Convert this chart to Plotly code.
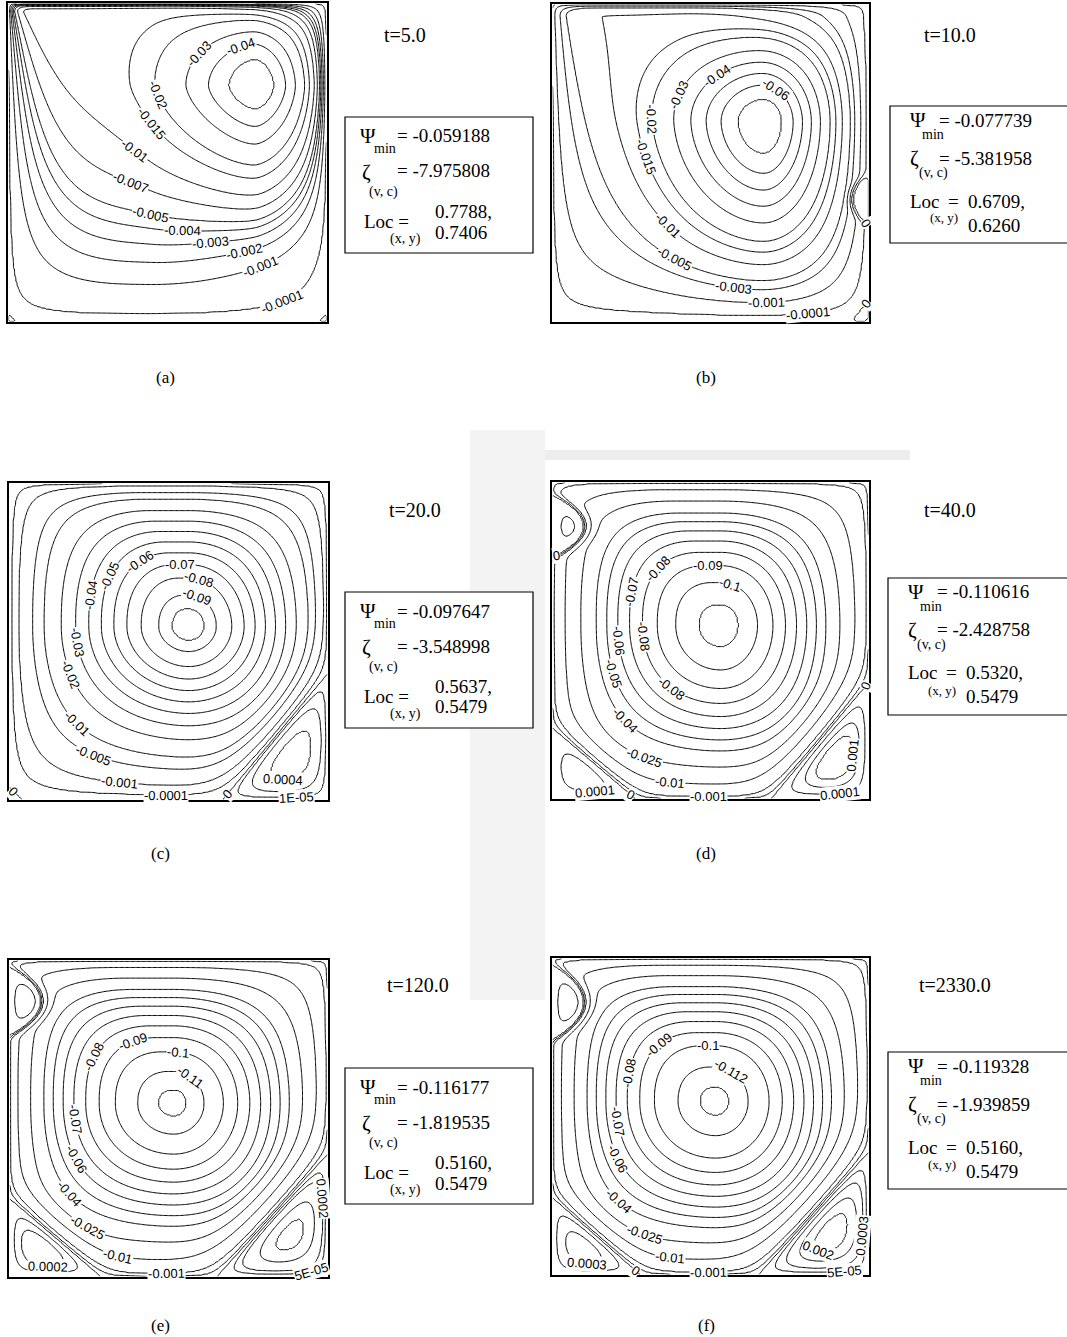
import numpy as np
import plotly.graph_objects as go

FIG_W, FIG_H = 1067, 1337
SERIF = "Liberation Serif, Times New Roman, serif"
SANS = "Liberation Sans, Arial, sans-serif"

# ------------------------------------------------------------------ data
panel_tags = ["(a)", "(b)", "(c)", "(d)", "(e)", "(f)"]
time_labels = ["t=5.0", "t=10.0", "t=20.0", "t=40.0", "t=120.0", "t=2330.0"]
psi_min = [-0.059188, -0.077739, -0.097647, -0.110616, -0.116177, -0.119328]
zeta_vc = [-7.975808, -5.381958, -3.548998, -2.428758, -1.819535, -1.939859]
loc_x = [0.7788, 0.6709, 0.5637, 0.5320, 0.5160, 0.5160]
loc_y = [0.7406, 0.6260, 0.5479, 0.5479, 0.5479, 0.5479]

# stream-function contour levels of each snapshot
levels_a = [-0.05, -0.04, -0.03, -0.02, -0.015, -0.01, -0.007, -0.005, -0.004,
            -0.003, -0.002, -0.001, -0.0001, 0.0]
levels_b = [-0.07, -0.06, -0.05, -0.04, -0.03, -0.02, -0.015, -0.01, -0.005,
            -0.003, -0.001, -0.0001, 0.0]
levels_c = [-0.095, -0.09, -0.08, -0.07, -0.06, -0.05, -0.04, -0.03, -0.02, -0.01,
            -0.005, -0.001, -0.0001, 0.0, 1e-5, 0.0001, 0.0004]
levels_d = [-0.108, -0.1, -0.09, -0.08, -0.07, -0.06, -0.05, -0.04, -0.025, -0.01,
            -0.001, -0.0001, 0.0, 0.0001, 0.0005, 0.001]
levels_e = [-0.115, -0.11, -0.1, -0.09, -0.08, -0.07, -0.06, -0.05, -0.04, -0.025,
            -0.01, -0.001, -0.0001, 0.0, 5e-5, 0.0002, 0.001, 0.002]
levels_f = [-0.118, -0.112, -0.1, -0.09, -0.08, -0.07, -0.06, -0.05, -0.04, -0.025,
            -0.01, -0.001, -0.0001, 0.0, 5e-5, 0.0003, 0.001, 0.002]

# contour values that carry an inline label
labels_a = [-0.04, -0.03, -0.02, -0.015, -0.01, -0.007, -0.005, -0.004, -0.003,
            -0.002, -0.001, -0.0001]
labels_b = [-0.06, -0.04, -0.03, -0.02, -0.015, -0.01, -0.005, -0.003, -0.001,
            -0.0001, 0.0, 0.0]
labels_c = [-0.04, -0.05, -0.06, -0.07, -0.08, -0.09, -0.03, -0.02, -0.01, -0.005,
            -0.001, -0.0001, 0.0, 0.0004, 1e-5, 0.0]
labels_d = [0.0, -0.09, -0.1, -0.08, -0.07, -0.06, -0.08, -0.08, -0.05, -0.04,
            -0.025, -0.01, -0.001, 0.0001, 0.0, 0.0, 0.001, 0.0001]
labels_e = [-0.1, -0.11, -0.09, -0.08, -0.07, -0.06, -0.04, -0.025, -0.01, -0.001,
            0.0002, 0.0002, 5e-5]
labels_f = [-0.1, -0.112, -0.09, -0.08, -0.07, -0.06, -0.04, -0.025, -0.01, -0.001,
            0.0003, 0.0, 0.002, 0.0003, 5e-5]

all_levels = [levels_a, levels_b, levels_c, levels_d, levels_e, levels_f]
all_labels = [labels_a, labels_b, labels_c, labels_d, labels_e, labels_f]

# ------------------------------------------------------------- placement
# where along each labelled contour the label sits (cavity units)
label_spots = [
    [(0.743, 0.827), (0.628, 0.816), (0.492, 0.722), (0.445, 0.618), (0.382, 0.518),
     (0.372, 0.403), (0.435, 0.288), (0.544, 0.231), (0.638, 0.194), (0.748, 0.184),
     (0.811, 0.121), (0.874, 0.032)],
    [(0.712, 0.743), (0.524, 0.770), (0.408, 0.712), (0.319, 0.639), (0.283, 0.513),
     (0.356, 0.293), (0.377, 0.188), (0.576, 0.131), (0.675, 0.073), (0.806, 0.031),
     (0.974, 0.293), (0.979, 0.073)],
    [(0.267, 0.642), (0.33, 0.70), (0.408, 0.758), (0.534, 0.742), (0.597, 0.695),
     (0.586, 0.637), (0.209, 0.495), (0.188, 0.395), (0.215, 0.242), (0.272, 0.153),
     (0.346, 0.042), (0.492, 0.026), (0.681, 0.021), (0.859, 0.068), (0.90, 0.016),
     (0.016, 0.032)],
    [(0.02, 0.763), (0.491, 0.726), (0.559, 0.674), (0.349, 0.716), (0.255, 0.653),
     (0.203, 0.5), (0.281, 0.511), (0.355, 0.316), (0.192, 0.395), (0.234, 0.253),
     (0.292, 0.132), (0.376, 0.074), (0.491, 0.021), (0.134, 0.021), (0.255, 0.021),
     (0.984, 0.363), (0.937, 0.142), (0.911, 0.021)],
    [(0.534, 0.728), (0.576, 0.639), (0.398, 0.717), (0.283, 0.686), (0.209, 0.497),
     (0.194, 0.361), (0.194, 0.267), (0.251, 0.162), (0.346, 0.084), (0.492, 0.026),
     (0.12, 0.037), (0.974, 0.246), (0.942, 0.037)],
    [(0.492, 0.723), (0.571, 0.649), (0.356, 0.709), (0.262, 0.634), (0.215, 0.487),
     (0.199, 0.361), (0.215, 0.236), (0.293, 0.131), (0.377, 0.068), (0.492, 0.021),
     (0.11, 0.031), (0.262, 0.016), (0.838, 0.063), (0.963, 0.126), (0.921, 0.026)],
]

# shape of the stream-function field: primary vortex (centred on Loc, depth psi_min),
# optional lid layer, and the secondary corner / wall eddies.
# side order: (left, right, bottom, top); taper = (amount, start height, power)
# narrows the left flank towards the moving lid.
flow_shape = [
    dict(core=dict(a=(4.3, 1.3, 4.0, 1.15), b=(1.7, 1.7, 1.7, 1.7)),
         extra=[dict(amp=-0.012, c=(0.45, 0.97), a=(1.2, 1.5, 1.5, 1.0), b=(3, 2, 2, 2),
                     taper=(0.85, 0.2, 2.0))],
         eddies=[dict(kind="corner", at="bl", ax=0.03, ay=0.03, amp=2e-6),
                 dict(kind="corner", at="br", ax=0.03, ay=0.03, amp=2e-6)]),
    dict(core=dict(a=(3.2, 2.0, 2.2, 1.85), b=(2, 2, 2, 2)),
         extra=[dict(amp=-0.010, c=(0.40, 0.96), a=(1.1, 1.5, 1.6, 1.0), b=(3, 2, 2, 2),
                     taper=(0.6, 0.3, 2.0))],
         eddies=[dict(kind="wall", at="r", s0=0.385, ls=0.085, depth=0.05, amp=2e-5),
                 dict(kind="corner", at="br", ax=0.06, ay=0.07, amp=5e-6)]),
    dict(core=dict(a=(1.8, 1.5, 2.1, 1.35), b=(2, 2, 2, 2), taper=(0.3, 0.55, 1.5)),
         extra=[],
         eddies=[dict(kind="corner", at="br", ax=0.33, ay=0.40, amp=0.0007),
                 dict(kind="corner", at="bl", ax=0.04, ay=0.04, amp=2e-6)]),
    dict(core=dict(a=(1.2, 1.3, 1.25, 1.05), b=(2, 2, 2, 2), taper=(0.35, 0.55, 1.5)),
         extra=[],
         eddies=[dict(kind="corner", at="br", ax=0.31, ay=0.37, amp=0.0017),
                 dict(kind="corner", at="bl", ax=0.265, ay=0.226, amp=0.0003),
                 dict(kind="wall", at="l", s0=0.86, ls=0.10, depth=0.10, amp=0.00015)]),
    dict(core=dict(a=(1.07, 1.2, 1.35, 1.05), b=(2, 2, 2, 2), taper=(0.35, 0.55, 1.5)),
         extra=[],
         eddies=[dict(kind="corner", at="br", ax=0.35, ay=0.39, amp=0.0025),
                 dict(kind="corner", at="bl", ax=0.29, ay=0.25, amp=0.00045),
                 dict(kind="wall", at="l", s0=0.87, ls=0.11, depth=0.10, amp=0.00015)]),
    dict(core=dict(a=(1.1, 1.2, 1.3, 1.05), b=(2, 2, 2, 2), taper=(0.35, 0.55, 1.5)),
         extra=[],
         eddies=[dict(kind="corner", at="br", ax=0.35, ay=0.39, amp=0.0028),
                 dict(kind="corner", at="bl", ax=0.28, ay=0.246, amp=0.00055),
                 dict(kind="wall", at="l", s0=0.86, ls=0.12, depth=0.10, amp=0.00015)]),
]

# page layout (pixels): plot frames, info boxes, text anchors
frames = [(8, 3, 327, 322), (552, 4, 869, 322), (9, 483, 328, 800),
          (552, 482, 869, 799), (9, 960, 328, 1277), (552, 958, 869, 1275)]
boxes = [(345, 117, "A"), (890, 106, "B"), (345, 592, "A"),
         (888, 578, "B"), (345, 1068, "A"), (888, 1052, "B")]
time_pos = [(405, 35), (950, 35), (415, 510), (950, 510), (418, 985), (955, 985)]
tag_pos = [(165, 377), (706, 377), (160, 853), (706, 853), (160, 1325), (706, 1325)]
# faint background seal behind the page (pixel rectangles and tint)
seal_pieces = [((470, 430, 545, 1000), "#f3f3f3"), ((545, 450, 910, 460), "#ededed")]

# ------------------------------------------------------------ field model
N = 261
xs = (np.arange(N) + 0.5) / N
ys = (np.arange(N) + 0.5) / N
X, Y = np.meshgrid(xs, ys)


def profile(t, a, b):
    t = np.clip(t, 0.0, 1.0)
    return 1.0 - (1.0 - t ** a) ** b


def vortex(Xg, Yg, amp, xc, yc, a, b, taper=None):
    wl = xc
    if taper is not None:
        amount, y0, p = taper
        s = np.clip((Yg - y0) / (1 - y0), 0.0, 1.0)
        wl = xc * (1 - amount * s ** p)
    left = Xg < xc
    tx = np.where(left, Xg / wl, (1 - Xg) / (1 - xc))
    fx = np.where(left, profile(tx, a[0], b[0]), profile(tx, a[1], b[1]))
    low = Yg < yc
    ty = np.where(low, Yg / yc, (1 - Yg) / (1 - yc))
    fy = np.where(low, profile(ty, a[2], b[2]), profile(ty, a[3], b[3]))
    return amp * fx * fy


def eddy(e):
    if e["kind"] == "corner":
        u = X / e["ax"] if e["at"][1] == "l" else (1 - X) / e["ax"]
        v = Y / e["ay"] if e["at"][0] == "b" else (1 - Y) / e["ay"]
        d = u + v
        shape = np.where(d < 1, (u * v * (1 - d)) ** 2, 0.0)
    else:
        u = X / e["depth"] if e["at"] == "l" else (1 - X) / e["depth"]
        s = (Y - e["s0"]) / e["ls"]
        d = u + s * s
        shape = np.where(d < 1, (u * (1 - d)) ** 2, 0.0)
    shape = shape / shape.max()
    mask = np.where(d < 1, 1.0, np.exp(-((d - 1) / 0.3) ** 2))
    return e["amp"] * shape, mask


def stream_function(i):
    spec = flow_shape[i]
    xc, yc = loc_x[i], loc_y[i]
    extra = np.zeros_like(X)
    extra_c = 0.0
    for t in spec["extra"]:
        tp = t.get("taper")
        extra += vortex(X, Y, t["amp"], t["c"][0], t["c"][1], t["a"], t["b"], tp)
        extra_c += float(vortex(np.array(xc), np.array(yc), t["amp"], t["c"][0],
                                t["c"][1], t["a"], t["b"], tp))
    core_amp = psi_min[i] - extra_c
    core = spec["core"]
    psi = vortex(X, Y, core_amp, xc, yc, core["a"], core["b"], core.get("taper")) + extra
    keep = np.ones_like(X)
    add = np.zeros_like(X)
    for e in spec["eddies"]:
        h, m = eddy(e)
        keep *= (1 - m)
        add += h
    return psi * keep + add


def level_text(v):
    if v == 0:
        return "0"
    if abs(v) < 1e-4:
        return f"{v:.0E}"
    return f"{v:g}"


def label_site(Z, level, hx, hy):
    D = Z - level
    px, py = [], []
    jj, ii = np.nonzero(D[:, :-1] * D[:, 1:] < 0)
    fr = D[jj, ii] / (D[jj, ii] - D[jj, ii + 1])
    px.append(xs[ii] + fr * (xs[ii + 1] - xs[ii]))
    py.append(ys[jj])
    jj, ii = np.nonzero(D[:-1, :] * D[1:, :] < 0)
    fr = D[jj, ii] / (D[jj, ii] - D[jj + 1, ii])
    px.append(xs[ii])
    py.append(ys[jj] + fr * (ys[jj + 1] - ys[jj]))
    px = np.concatenate(px)
    py = np.concatenate(py)
    if px.size == 0:
        return None
    k = np.argmin((px - hx) ** 2 + (py - hy) ** 2)
    return px[k], py[k]


# ------------------------------------------------------------------ figure
fig = go.Figure()
layout = dict(width=FIG_W, height=FIG_H, margin=dict(l=0, r=0, t=0, b=0),
              paper_bgcolor="white", plot_bgcolor="white", showlegend=False)

annotations = []
shapes = []

for (sx0, sy0, sx1, sy1), tint in seal_pieces:
    shapes.append(dict(type="rect", xref="paper", yref="paper", layer="below",
                       x0=sx0 / FIG_W, x1=sx1 / FIG_W, y0=1 - sy1 / FIG_H, y1=1 - sy0 / FIG_H,
                       fillcolor=tint, line=dict(width=0)))


def ptext(px, py, text, size, anchor="left", family=SERIF):
    annotations.append(dict(x=px / FIG_W, y=1 - py / FIG_H, xref="paper", yref="paper",
                            text=text, showarrow=False, xanchor=anchor, yanchor="middle",
                            font=dict(family=family, size=size, color="black")))


for i in range(6):
    ax_id = "" if i == 0 else str(i + 1)
    x0, y0, x1, y1 = frames[i]
    axis_common = dict(range=[0, 1], showgrid=False, zeroline=False, showticklabels=False,
                       ticks="", showline=True, mirror=True, linecolor="black",
                       linewidth=1.8, fixedrange=True)
    layout["xaxis" + ax_id] = dict(domain=[x0 / FIG_W, x1 / FIG_W],
                                   anchor="y" + ax_id, **axis_common)
    layout["yaxis" + ax_id] = dict(domain=[1 - y1 / FIG_H, 1 - y0 / FIG_H],
                                   anchor="x" + ax_id, **axis_common)

    Z = stream_function(i)
    lv = np.array(sorted(all_levels[i]))
    ext_v = np.concatenate([[Z.min() - 1.0], lv, [Z.max() + 1.0]])
    ext_i = np.concatenate([[-1.0], np.arange(len(lv), dtype=float), [float(len(lv))]])
    Zt = np.interp(Z, ext_v, ext_i)

    fig.add_trace(go.Contour(
        x=xs, y=ys, z=Zt.astype(np.float32), xaxis="x" + ax_id, yaxis="y" + ax_id,
        autocontour=False,
        contours=dict(start=0, end=len(lv) - 1, size=1, coloring="none", showlabels=False),
        line=dict(color="black", width=1, smoothing=1),
        showscale=False, hoverinfo="skip"))

    # inline contour labels
    gy, gx = np.gradient(Z, ys, xs)
    for val, (hx, hy) in zip(all_labels[i], label_spots[i]):
        site = label_site(Z, val, hx, hy)
        if site is None:
            continue
        sx, sy = site
        jx = min(int(sx * N), N - 1)
        jy = min(int(sy * N), N - 1)
        tx, ty = -gy[jy, jx], gx[jy, jx]
        ang = np.degrees(np.arctan2(-ty, tx))
        if ang > 90:
            ang -= 180
        if ang <= -90:
            ang += 180
        annotations.append(dict(x=sx, y=sy, xref="x" + ax_id, yref="y" + ax_id,
                                text=level_text(val), showarrow=False, textangle=float(ang),
                                xanchor="center", yanchor="middle", bgcolor="white",
                                borderpad=0,
                                font=dict(family=SANS, size=13, color="black")))

    # time stamp and panel tag
    ptext(time_pos[i][0], time_pos[i][1], time_labels[i], 20, anchor="center")
    ptext(tag_pos[i][0], tag_pos[i][1], panel_tags[i], 17, anchor="center")

    # summary box
    bx, by, kind = boxes[i]
    if kind == "A":
        bw, bh = 188, 136
        shapes.append(dict(type="rect", xref="paper", yref="paper",
                           x0=bx / FIG_W, x1=(bx + bw) / FIG_W,
                           y0=1 - (by + bh) / FIG_H, y1=1 - by / FIG_H,
                           fillcolor="white", line=dict(color="black", width=1.2)))
        ptext(bx + 13, by + 19, "\u03a8", 21)
        ptext(bx + 27, by + 31, "min", 14)
        ptext(bx + 50, by + 19, f"= {psi_min[i]:.6f}", 19)
        ptext(bx + 15, by + 55, "\u03b6", 21)
        ptext(bx + 22, by + 75, "(v, c)", 14)
        ptext(bx + 50, by + 54, f"= {zeta_vc[i]:.6f}", 19)
        ptext(bx + 17, by + 104, "Loc =", 19)
        ptext(bx + 43, by + 122, "(x, y)", 14)
        ptext(bx + 88, by + 94, f"{loc_x[i]:.4f},", 19)
        ptext(bx + 88, by + 115, f"{loc_y[i]:.4f}", 19)
    else:
        bh = 137
        shapes.append(dict(type="rect", xref="paper", yref="paper",
                           x0=bx / FIG_W, x1=1.05,
                           y0=1 - (by + bh) / FIG_H, y1=1 - by / FIG_H,
                           fillcolor="white", line=dict(color="black", width=1.2)))
        ptext(bx + 18, by + 14, "\u03a8", 21)
        ptext(bx + 30, by + 28, "min", 14)
        ptext(bx + 47, by + 14, f"= {psi_min[i]:.6f}", 19)
        ptext(bx + 18, by + 52, "\u03b6", 21)
        ptext(bx + 27, by + 67, "(v, c)", 14)
        ptext(bx + 47, by + 52, f"= {zeta_vc[i]:.6f}", 19)
        ptext(bx + 18, by + 95, "Loc", 19)
        ptext(bx + 56, by + 95, "=", 19)
        ptext(bx + 38, by + 112, "(x, y)", 13)
        ptext(bx + 76, by + 95, f"{loc_x[i]:.4f},", 19)
        ptext(bx + 76, by + 119, f"{loc_y[i]:.4f}", 19)

layout["annotations"] = annotations
layout["shapes"] = shapes
fig.update_layout(**layout)
fig.write_html("out.html", config={"displayModeBar": False})
